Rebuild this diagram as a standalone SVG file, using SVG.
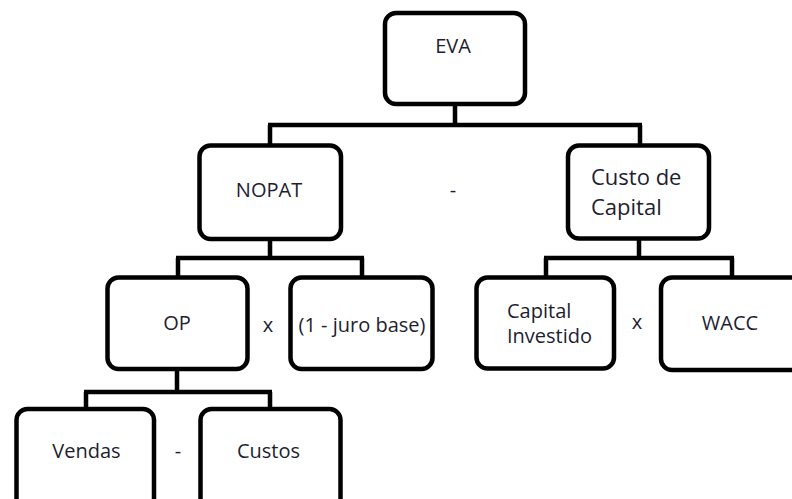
<svg xmlns="http://www.w3.org/2000/svg" width="792" height="499" viewBox="0 0 792 499">
<style>
.box{fill:#fff;stroke:#000;stroke-width:4.5}
.ln{fill:none;stroke:#000;stroke-width:4.5}
text{font-family:"Open Sans","Noto Sans","DejaVu Sans",sans-serif;font-size:20px;fill:#1e1e30}
.c{text-anchor:middle}
.big{font-size:22px}
</style>
<rect width="792" height="499" fill="#fff"/>
<g id="connectors">
<path class="ln" d="M455,104 V125 M268,125 H642 M270,125 V146 M640,125 V146"/>
<path class="ln" d="M270,239 V258 M176,258 H364 M178,258 V278 M362,258 V278"/>
<path class="ln" d="M639,238 V258 M544,258 H734 M546,258 V278 M732,258 V278"/>
<path class="ln" d="M177,369 V392 M84,392 H272 M86,392 V409 M270,392 V409"/>
</g>
<g id="eva"><rect class="box" x="385" y="13" width="140" height="91" rx="11"/><text class="c" x="453" y="53">EVA</text></g>
<g id="nopat"><rect class="box" x="199.5" y="145.5" width="141.5" height="93.5" rx="11"/><text class="c" x="269" y="197">NOPAT</text></g>
<g id="op-minus"><text class="c" x="453" y="197">-</text></g>
<g id="custo"><rect class="box" x="568" y="145.5" width="141" height="93" rx="11"/><text class="big" x="591" y="185">Custo de</text><text class="big" x="591" y="215">Capital</text></g>
<g id="op"><rect class="box" x="107.5" y="277.5" width="140" height="91.5" rx="11"/><text class="c" x="177" y="330">OP</text></g>
<g id="op-times1"><text class="c" x="268" y="332">x</text></g>
<g id="juro"><rect class="box" x="290.5" y="277.5" width="142" height="91.5" rx="11"/><text class="c" x="362" y="332">(1 - juro base)</text></g>
<g id="capinv"><rect class="box" x="476.5" y="277.5" width="137.5" height="91" rx="11"/><text x="507" y="318">Capital</text><text x="507" y="343">Investido</text></g>
<g id="op-times2"><text class="c" x="637" y="329">x</text></g>
<g id="wacc"><rect class="box" x="661" y="277.5" width="150" height="92.5" rx="11"/><text class="c" x="730" y="330">WACC</text></g>
<g id="vendas"><rect class="box" x="16.5" y="409" width="137.5" height="110" rx="11"/><text class="c" x="86.5" y="458">Vendas</text></g>
<g id="op-minus2"><text class="c" x="178" y="458">-</text></g>
<g id="custos"><rect class="box" x="200.5" y="409" width="140" height="110" rx="11"/><text class="c" x="268.5" y="458">Custos</text></g>
</svg>
